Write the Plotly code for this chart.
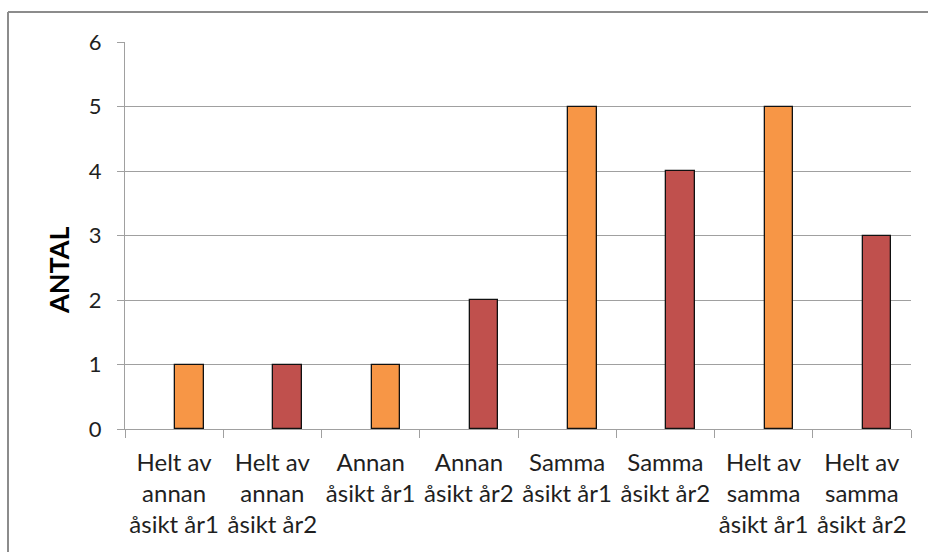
import plotly.graph_objects as go

categories = [
    "Helt av<br>annan<br>åsikt år1",
    "Helt av<br>annan<br>åsikt år2",
    "Annan<br>åsikt år1",
    "Annan<br>åsikt år2",
    "Samma<br>åsikt år1",
    "Samma<br>åsikt år2",
    "Helt av<br>samma<br>åsikt år1",
    "Helt av<br>samma<br>åsikt år2",
]
values = [1, 1, 1, 2, 5, 4, 5, 3]
years = ["år1", "år2", "år1", "år2", "år1", "år2", "år1", "år2"]
y_ticks = [0, 1, 2, 3, 4, 5, 6]
y_title = "ANTAL"

year_colors = {"år1": "#F79646", "år2": "#C0504D"}
bar_colors = [year_colors[y] for y in years]

W, H = 928, 552
ML, MR, MT, MB = 125, 17, 42, 123
pw, ph = W - ML - MR, H - MT - MB

fig = go.Figure()
fig.add_trace(go.Bar(
    x=categories,
    y=values,
    marker=dict(color=bar_colors, line=dict(color="#111111", width=1.3)),
    width=0.29,
    offset=0.01,
    showlegend=False,
    hoverinfo="x+y",
))

grid = "#A0A0A0"
font_fam = "Lato, 'Liberation Sans', sans-serif"

fig.update_layout(
    width=W, height=H,
    margin=dict(l=ML, r=MR, t=MT, b=MB, pad=0),
    paper_bgcolor="white",
    plot_bgcolor="white",
    font=dict(family=font_fam, color="#1f1f1f"),
    bargap=0,
    xaxis=dict(
        type="category",
        showgrid=False,
        showline=True, linecolor=grid, linewidth=1,
        ticks="outside", tickson="boundaries", ticklen=8, tickcolor=grid, tickwidth=1,
        tickfont=dict(size=24, family=font_fam, color="#1f1f1f"),
        tickangle=0,
        ticklabelstandoff=12,
    ),
    yaxis=dict(
        range=[0, 6],
        tickvals=y_ticks,
        showgrid=True, gridcolor=grid, gridwidth=1,
        showline=True, linecolor=grid, linewidth=1,
        ticks="outside", ticklen=7, tickcolor=grid, tickwidth=1,
        tickfont=dict(size=22, family=font_fam, color="#1f1f1f"),
        zeroline=False,
        ticklabelstandoff=11,
    ),
)

# Axis title placed as in the reference (below the plot-area centre)
fig.add_annotation(
    text="<b>" + y_title + "</b>",
    xref="paper", yref="paper",
    x=(58 - ML) / pw, y=(H - MB - 270) / ph,
    textangle=-90, showarrow=False,
    font=dict(size=27, family=font_fam, color="#000000"),
    xanchor="center", yanchor="middle",
)

# Chart frame (only left and top edges are visible in the reference)
fx0 = (8 - ML) / pw
fx1 = (W - ML) / pw
fy_top = (H - MB - 12) / ph
fy_bot = (H - MB - H) / ph
frame = dict(color="#8C8C8C", width=2)
fig.add_shape(type="line", xref="paper", yref="paper",
              x0=fx0, x1=fx0, y0=fy_bot, y1=fy_top, line=frame, layer="below")
fig.add_shape(type="line", xref="paper", yref="paper",
              x0=fx0, x1=fx1, y0=fy_top, y1=fy_top, line=frame, layer="below")

fig.write_html(
    "out.html",
    config={"displayModeBar": False},
    post_script=(
        "document.documentElement.style.overflow='hidden';"
        "document.documentElement.style.margin='0';"
        "document.body.style.margin='0';"
        "document.body.style.overflow='hidden';"
    ),
)
